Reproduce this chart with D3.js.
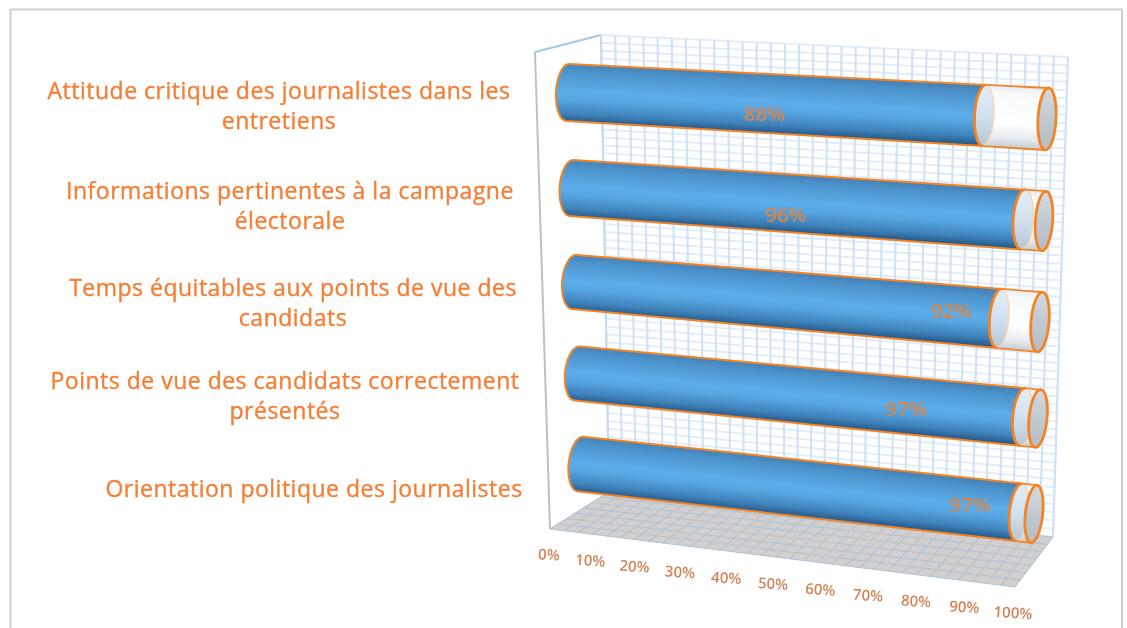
<!DOCTYPE html>
<html><head><meta charset="utf-8">
<script src="https://cdn.jsdelivr.net/npm/d3@7/dist/d3.min.js"></script>
<style>html,body{margin:0;padding:0;background:#fff}svg{display:block}</style>
</head><body><svg id="c" width="1127" height="628"></svg>
<script>
// ---- data ----
const categories = [
  ["Attitude critique des journalistes dans les","entretiens"],
  ["Informations pertinentes à la campagne","électorale"],
  ["Temps équitables aux points de vue des","candidats"],
  ["Points de vue des candidats correctement","présentés"],
  ["Orientation politique des journalistes"]
];
const values = [88,96,92,97,97];
const valueLabels = ["88%","96%","92%","97%","97%"];
const tickValues = [0,10,20,30,40,50,60,70,80,90,100];

// ---- projection of the 3-D scene ----
const leftX  = [568,571,574,577,580];
const rightX = [1047,1044,1040,1038,1034];
const leftY  = d3.scaleLinear().domain([0,1,2,3,4]).range([92.5,188,282,373.5,464]);
const rightY = d3.scaleLinear().domain([0,1,2,3,4]).range([119,221,322,418.5,514]);
const leftH  = [28.5,28,27,27,27.5];
const rightH = [31,30,30,29,29];
const pct = d3.scalePow().exponent(1.1).domain([0,100]).range([0,1]);
const labelAt = [41,45.4,81,71.4,85.9];
const labelDy = [10,11,-4,2,-3];
const labelCx = [279,290,293,285,314];
const labelCy = [90,190,287,380,488];

const svg = d3.select("#c");
const defs = svg.append("defs");
defs.append("filter").attr("id","soft").attr("x","-5%").attr("y","-5%").attr("width","110%").attr("height","110%")
  .append("feGaussianBlur").attr("stdDeviation",0.75);
const softer = defs.append("filter").attr("id","soft2");
softer.append("feGaussianBlur").attr("stdDeviation",0.55);

// frame
const root = svg.append("g");
root.append("path").attr("d","M10.5,628V9.5H1122V628").attr("fill","none").attr("stroke","#cfcfcf").attr("stroke-width",2).attr("filter","url(#soft)");

const scene = root.append("g").attr("filter","url(#soft)");
const lerp = (a,b,t)=>a+(b-a)*t;
const backWall = {tl:[601,35],tr:[1068,57],bl:[609,492],br:[1053,537]};
const floor = {fl:[550,529],fr:[1015,587],bl:[609,492],br:[1053,537]};
const wallPt=(u,v)=>{const t=[lerp(backWall.tl[0],backWall.tr[0],u),lerp(backWall.tl[1],backWall.tr[1],u)],
  b=[lerp(backWall.bl[0],backWall.br[0],u),lerp(backWall.bl[1],backWall.br[1],u)];return [lerp(t[0],b[0],v),lerp(t[1],b[1],v)];};
const floorPt=(u,w)=>{const f=[lerp(floor.fl[0],floor.fr[0],u),lerp(floor.fl[1],floor.fr[1],u)],
  b=[lerp(floor.bl[0],floor.br[0],u),lerp(floor.bl[1],floor.br[1],u)];return [lerp(f[0],b[0],w),lerp(f[1],b[1],w)];};
const seg=(g,a,b,c,w)=>g.append("line").attr("x1",a[0]).attr("y1",a[1]).attr("x2",b[0]).attr("y2",b[1]).attr("stroke",c).attr("stroke-width",w);

// wall grid
const wallG = scene.append("g");
d3.range(0,59).forEach(i=>seg(wallG,wallPt(0,i/58),wallPt(1,i/58),"#e0ecf9",1.8));
d3.range(0,34).forEach(i=>seg(wallG,wallPt(i/33,0),wallPt(i/33,1),"#cfe2f6",2.2));

// side wall
const sideTop=[535,52];
seg(scene,backWall.tl,sideTop,"#a2c8ea",2);
seg(scene,sideTop,floor.fl,"#bcc1c7",2);
seg(scene,backWall.tl,backWall.bl,"#c4dcf2",2);

// floor
const line2=d3.line();
scene.append("path").attr("d",line2([floor.fl,floor.fr,floor.br,floor.bl])+"Z").attr("fill","#d2cfcd");
const floorG=scene.append("g");
d3.range(0,34).forEach(i=>seg(floorG,floorPt(i/33,0),floorPt(i/33,1),"#b0c4d6",1.1));
d3.range(0,8).forEach(i=>seg(floorG,floorPt(0,i/7),floorPt(1,i/7),"#b0c4d6",1.1));

// cylinders
const gradBlue=(id,a,b)=>{const g=defs.append("linearGradient").attr("id",id).attr("gradientUnits","userSpaceOnUse")
  .attr("x1",a[0]).attr("y1",a[1]).attr("x2",b[0]).attr("y2",b[1]);
  [[0,"#4280b4"],[.14,"#4c93cb"],[.48,"#5cadea"],[.62,"#57a6e2"],[.85,"#3f83ba"],[1,"#24598a"]].forEach(s=>g.append("stop").attr("offset",s[0]).attr("stop-color",s[1]));return "url(#"+id+")";};
const gradGlass=(id,a,b,stops)=>{const g=defs.append("linearGradient").attr("id",id).attr("gradientUnits","userSpaceOnUse")
  .attr("x1",a[0]).attr("y1",a[1]).attr("x2",b[0]).attr("y2",b[1]);
  stops.forEach(s=>g.append("stop").attr("offset",s[0]).attr("stop-color",s[1]));return "url(#"+id+")";};
const orange="#f38427";
const bars=scene.append("g");
values.forEach((val,i)=>{
  const x=d3.scaleLinear().domain([0,1]).range([leftX[i],rightX[i]]);
  const y=d3.scaleLinear().domain([0,1]).range([leftY(i),rightY(i)]);
  const h=d3.scaleLinear().domain([0,1]).range([leftH[i],rightH[i]]);
  const ang=Math.atan2(y(1)-y(0),x(1)-x(0));
  const deg=ang*180/Math.PI;
  const px=(t,v)=>[x(t)-v*h(t)*Math.sin(ang), y(t)+v*h(t)*Math.cos(ang)]; // v=-1 top, +1 bottom
  const f=p=>p[0].toFixed(1)+","+p[1].toFixed(1);
  const tv=pct(val);
  const rxL=12,rxB=10,rxR=9;
  const ar=(rx,ry,sw,p)=>`A${rx},${ry} ${deg.toFixed(2)} 0 ${sw} ${f(p)}`;
  const g=bars.append("g");
  // glass part
  const glassFill=gradGlass("gl"+i,px(tv,-1),px(tv,1),[[0,"#e6ebf1"],[.12,"#f8fafc"],[.6,"#ffffff"],[.85,"#e6eaef"],[1,"#c3cbd3"]]);
  g.append("path").attr("d",`M${f(px(tv,-1))}L${f(px(1,-1))}L${f(px(1,1))}L${f(px(tv,1))}Z`).attr("fill",glassFill);
  // inner disc at the end of the filled part, seen through the glass
  const discFill=gradGlass("dc"+i,px(tv,-1),px(tv,1),[[0,"#e4edf5"],[.5,"#d3e2f0"],[1,"#b4c5d4"]]);
  g.append("path").attr("d",`M${f(px(tv,-1))}${ar(rxB,h(tv),0,px(tv,1))}${ar(rxB,h(tv),0,px(tv,-1))}Z`)
    .attr("fill",discFill).attr("stroke","#f9d4b4").attr("stroke-width",1.4);
  // glass edges
  g.append("path").attr("d",`M${f(px(tv,-1))}L${f(px(1,-1))}M${f(px(tv,1))}L${f(px(1,1))}`).attr("stroke",orange).attr("stroke-width",1.8).attr("fill","none");
  // far disc
  const farFill=gradGlass("fr"+i,px(1,-1),px(1,1),[[0,"#d3d9df"],[.5,"#c2c9d0"],[1,"#b4bcc4"]]);
  g.append("path").attr("d",`M${f(px(1,-1))}${ar(rxR,h(1),0,px(1,1))}${ar(rxR,h(1),0,px(1,-1))}Z`)
    .attr("fill",farFill).attr("stroke",orange).attr("stroke-width",2.8);
  // filled body
  g.append("path")
    .attr("d",`M${f(px(0,-1))}L${f(px(tv,-1))}${ar(rxB,h(tv),0,px(tv,1))}L${f(px(0,1))}${ar(rxL,h(0),1,px(0,-1))}Z`)
    .attr("fill",gradBlue("bl"+i,px(.5,-1),px(.5,1)));
  // outline
  g.append("path").attr("d",`M${f(px(tv,1))}L${f(px(0,1))}${ar(rxL,h(0),1,px(0,-1))}L${f(px(tv,-1))}`)
    .attr("fill","none").attr("stroke",orange).attr("stroke-width",2);
  g.append("path").attr("d",`M${f(px(tv,-1))}${ar(rxB,h(tv),0,px(tv,1))}`).attr("fill","none").attr("stroke",orange).attr("stroke-width",2.8);
  // value label
  const tL=labelAt[i]/100, lp=[x(tL),y(tL)+labelDy[i]];
  root.append("text").attr("x",lp[0]).attr("y",lp[1]).attr("text-anchor","middle").attr("dominant-baseline","central")
    .attr("font-family","'Open Sans',sans-serif").attr("font-weight",600).attr("font-size",20.5).attr("fill","#d8854c").attr("filter","url(#soft2)").text(valueLabels[i]);
});

// category labels
const catG=root.append("g").attr("filter","url(#soft2)");
categories.forEach((lines,i)=>{
  lines.forEach((s,k)=>{
    catG.append("text").attr("x",labelCx[i]).attr("y",labelCy[i]+k*30).attr("text-anchor","middle").attr("dominant-baseline","central")
      .attr("font-family","'Open Sans',sans-serif").attr("font-size",23).attr("letter-spacing",0.5)
      .attr("fill","#f47f36").attr("stroke","#f47f36").attr("stroke-width",0.4).text(s);
  });
});

// ticks
const tickX=d3.scalePow().exponent(1.05).domain([0,100]).range([549,1013]);
const tickY=d3.scaleLinear().domain([0,100]).range([554,612]);
const tickG=root.append("g").attr("filter","url(#soft2)");
tickValues.forEach(t=>{
  tickG.append("text").attr("transform",`translate(${tickX(t)},${tickY(t)}) rotate(4)`).attr("text-anchor","middle").attr("dominant-baseline","central")
    .attr("font-family","'Open Sans',sans-serif").attr("font-weight",600).attr("font-size",15).attr("fill","#d18558").text(t+"%");
});
</script></body></html>
